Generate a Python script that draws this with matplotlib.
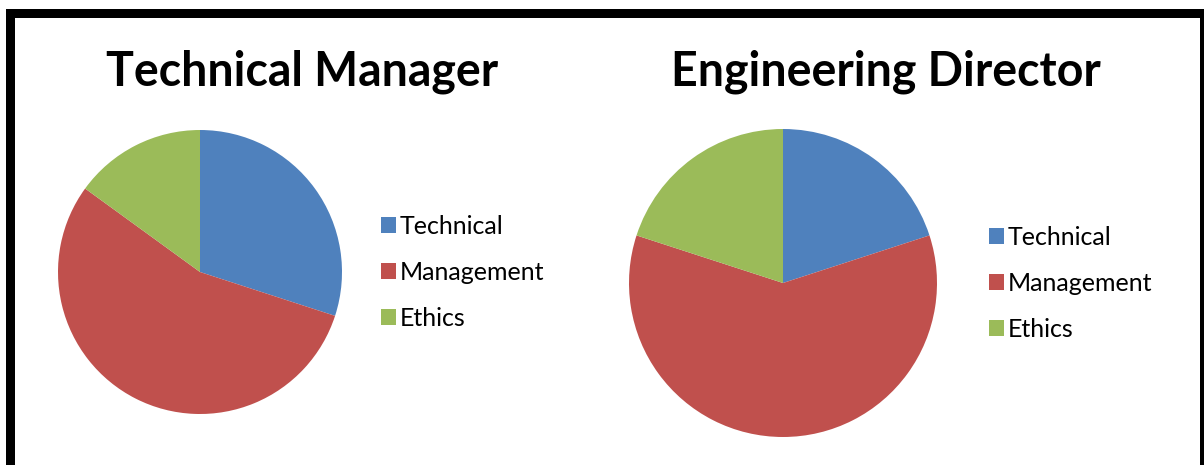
import matplotlib.pyplot as plt
from matplotlib.patches import Rectangle

# pie data
categories = ["Technical", "Management", "Ethics"]
tech_manager = [30, 55, 15]
eng_director = [20, 60, 20]
titles = ["Technical Manager", "Engineering Director"]
colors = ["#4F81BD", "#C0504D", "#9BBB59"]

W, H = 1204, 465
fig = plt.figure(figsize=(W / 100, H / 100), dpi=100)
fig.patch.set_facecolor("white")

# black frame (cropped at right and bottom)
fig.patches.append(Rectangle((6 / W, 0), 9 / W, (H - 9) / H, transform=fig.transFigure,
                             facecolor="black", edgecolor="none"))
fig.patches.append(Rectangle((6 / W, (H - 18) / H), (W - 6) / W, 9 / H, transform=fig.transFigure,
                             facecolor="black", edgecolor="none"))
fig.patches.append(Rectangle((1200 / W, 0), 4 / W, (H - 9) / H, transform=fig.transFigure,
                             facecolor="black", edgecolor="none"))


def add_pie(values, cx, cy, r, title, tx, leg_x, leg_y):
    ax = fig.add_axes([(cx - r) / W, (H - cy - r) / H, 2 * r / W, 2 * r / H])
    wedges, _ = ax.pie(values, colors=colors, startangle=90, counterclock=False,
                       radius=1, wedgeprops={"linewidth": 0})
    ax.set_xlim(-1, 1)
    ax.set_ylim(-1, 1)
    ax.set_aspect("equal")
    fig.text(tx / W, (H - 72) / H, title, ha="center", va="center",
             fontsize=33.5, fontweight="bold", family="Lato")
    fig.legend(wedges, categories, loc="upper left",
               bbox_to_anchor=(leg_x / W, (H - leg_y) / H), frameon=False,
               prop={"family": "Lato", "size": 18}, handlelength=0.6, handleheight=0.6,
               handletextpad=0.15, labelspacing=0.92, borderpad=0, borderaxespad=0)


add_pie(tech_manager, 200, 272, 142, titles[0], 302, 381, 215)
add_pie(eng_director, 783, 283, 154, titles[1], 886, 989, 226)

fig.savefig("out.png", dpi=100)
